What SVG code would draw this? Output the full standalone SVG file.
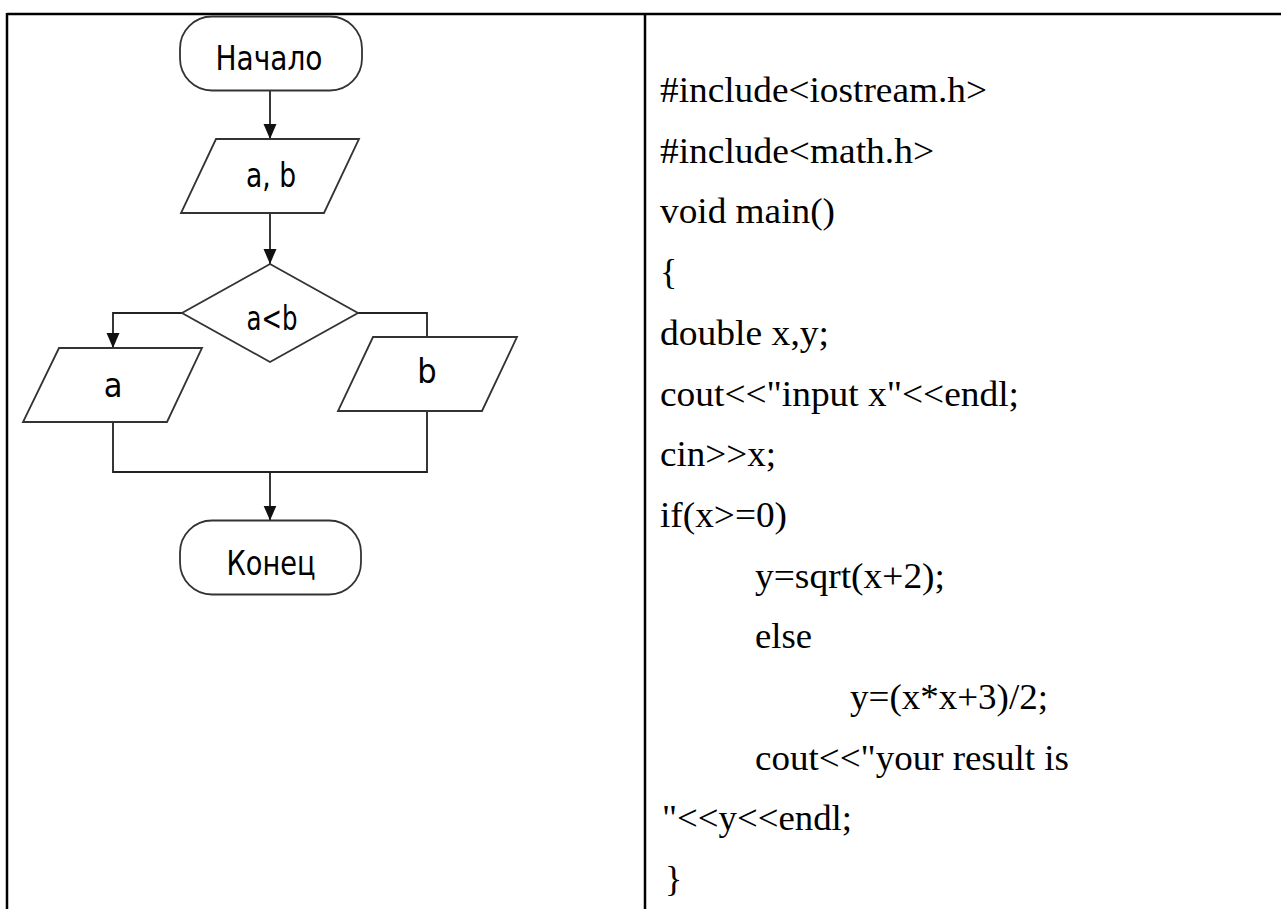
<svg xmlns="http://www.w3.org/2000/svg" width="1281" height="909" viewBox="0 0 1281 909">
  <style>
    .grid { stroke: #000; stroke-width: 2.5; fill: none; }
    .shape { fill: #fff; stroke: #333; stroke-width: 1.8; }
    .wire { fill: none; stroke: #222; stroke-width: 1.8; }
    .lbl { font-family: "Liberation Sans Narrow", "DejaVu Sans Condensed", "Liberation Sans", sans-serif; font-stretch: condensed; font-size: 34px; fill: #000; text-anchor: middle; }
    .code { font-family: "Liberation Serif", "Times New Roman", serif; font-size: 36px; fill: #000; }
  </style>
  <defs>
    <marker id="arrow" markerUnits="userSpaceOnUse" markerWidth="15" markerHeight="16" refX="15" refY="6.5" orient="auto">
      <path d="M0,0 L15,6.5 L0,13 Z" fill="#111"/>
    </marker>
  </defs>

  <rect width="1281" height="909" fill="#fff"/>

  <!-- table rules -->
  <g id="table">
    <line class="grid" x1="7" y1="14" x2="1281" y2="14"/>
    <line class="grid" x1="7" y1="13" x2="7" y2="909"/>
    <line class="grid" x1="645" y1="13" x2="645" y2="909"/>
  </g>

  <!-- flowchart connectors -->
  <g id="connectors">
    <path class="wire" d="M270,90.5 V139" marker-end="url(#arrow)"/>
    <path class="wire" d="M270,213 V264" marker-end="url(#arrow)"/>
    <path class="wire" d="M182,313 H113 V348" marker-end="url(#arrow)"/>
    <path class="wire" d="M358,313 H427 V337"/>
    <path class="wire" d="M113,422 V472 H427 V411"/>
    <path class="wire" d="M270,472 V520.5" marker-end="url(#arrow)"/>
  </g>

  <g id="start">
    <rect class="shape" x="180" y="16.5" width="182" height="74" rx="32" ry="32"/>
    <text class="lbl" x="269" y="70" textLength="107" lengthAdjust="spacingAndGlyphs">Начало</text>
  </g>

  <g id="input-ab">
    <polygon class="shape" points="216,139 359,139 324,213 181,213"/>
    <text class="lbl" x="271" y="187" textLength="50" lengthAdjust="spacingAndGlyphs">a, b</text>
  </g>

  <g id="decision">
    <polygon class="shape" points="270,264 358,313 270,362 182,313"/>
    <text class="lbl" x="272" y="330" textLength="51" lengthAdjust="spacingAndGlyphs">a&lt;b</text>
  </g>

  <g id="output-a">
    <polygon class="shape" points="59,348 202,348 167,422 23,422"/>
    <text class="lbl" x="113" y="397">a</text>
  </g>

  <g id="output-b">
    <polygon class="shape" points="373,337 517,337 482,411 338,411"/>
    <text class="lbl" x="427" y="383">b</text>
  </g>

  <g id="end">
    <rect class="shape" x="180" y="520.5" width="181" height="74" rx="32" ry="32"/>
    <text class="lbl" x="271" y="575" textLength="89" lengthAdjust="spacingAndGlyphs">Конец</text>
  </g>

  <!-- program listing -->
  <g id="listing" class="code">
    <text x="660" y="102" textLength="327" lengthAdjust="spacingAndGlyphs">#include&lt;iostream.h&gt;</text>
    <text x="660" y="162.5" textLength="274" lengthAdjust="spacingAndGlyphs">#include&lt;math.h&gt;</text>
    <text x="660" y="223" textLength="175" lengthAdjust="spacingAndGlyphs">void main()</text>
    <text x="660" y="284">{</text>
    <text x="660" y="345" textLength="169" lengthAdjust="spacingAndGlyphs">double x,y;</text>
    <text x="660" y="405.5" textLength="359" lengthAdjust="spacingAndGlyphs">cout&lt;&lt;"input x"&lt;&lt;endl;</text>
    <text x="660" y="466" textLength="116" lengthAdjust="spacingAndGlyphs">cin&gt;&gt;x;</text>
    <text x="660" y="527" textLength="127" lengthAdjust="spacingAndGlyphs">if(x&gt;=0)</text>
    <text x="755" y="587.5" textLength="190" lengthAdjust="spacingAndGlyphs">y=sqrt(x+2);</text>
    <text x="755" y="648" textLength="57" lengthAdjust="spacingAndGlyphs">else</text>
    <text x="850" y="709" textLength="198" lengthAdjust="spacingAndGlyphs">y=(x*x+3)/2;</text>
    <text x="755" y="769.5" textLength="314" lengthAdjust="spacingAndGlyphs">cout&lt;&lt;"your result is</text>
    <text x="662" y="830" textLength="190" lengthAdjust="spacingAndGlyphs">"&lt;&lt;y&lt;&lt;endl;</text>
    <text x="665" y="891">}</text>
  </g>
</svg>
